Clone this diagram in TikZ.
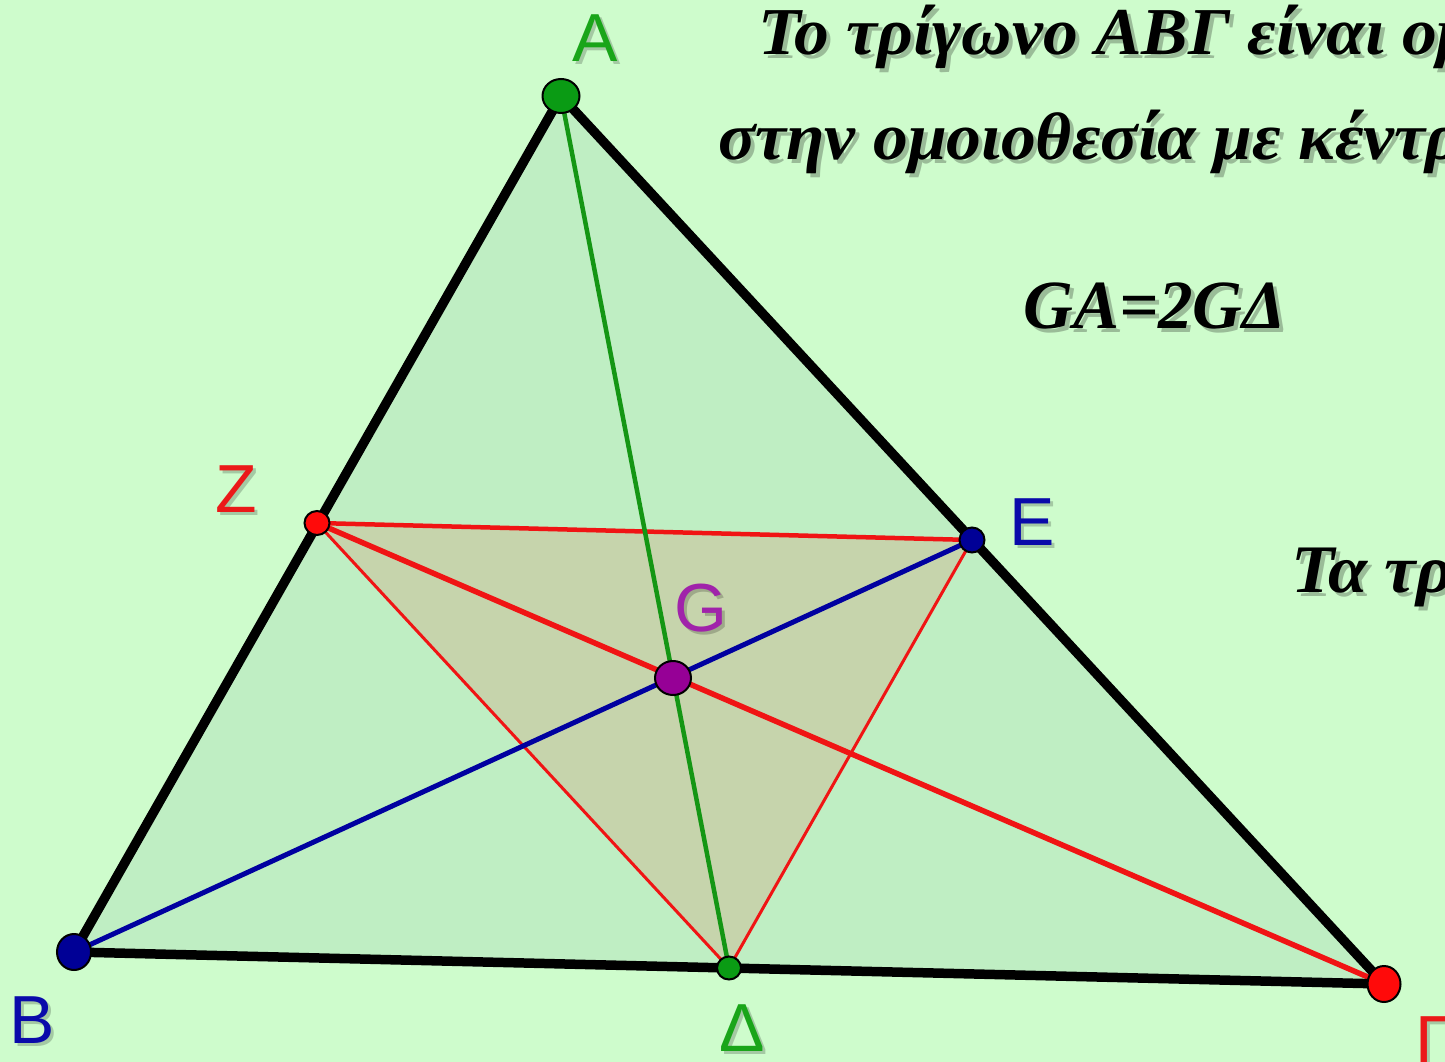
\documentclass[tikz,border=0pt]{standalone}
\usepackage{fontspec}
\usetikzlibrary{shapes.geometric}
\setmainfont{Liberation Serif}
\newfontfamily\lblfont{Liberation Sans}
\definecolor{bgc}{RGB}{206,252,204}
\definecolor{trifill}{RGB}{191,238,195}
\definecolor{innerfill}{RGB}{198,212,172}
\definecolor{lgreen}{RGB}{20,150,20}
\definecolor{lblue}{RGB}{0,0,160}
\definecolor{lred}{RGB}{240,20,20}
\definecolor{pgreen}{RGB}{10,155,20}
\definecolor{pblue}{RGB}{0,0,150}
\definecolor{pred}{RGB}{255,10,10}
\definecolor{ppurple}{RGB}{150,0,150}
\definecolor{tgreen}{RGB}{25,165,25}
\definecolor{tblue}{RGB}{10,10,170}
\definecolor{tred}{RGB}{235,25,25}
\definecolor{tpurple}{RGB}{160,35,170}
\newcommand{\widetxt}[1]{\scalebox{1.04}[1]{#1}}
\begin{document}
\begin{tikzpicture}[x=1pt,y=-1pt,
  side/.style={line width=9.5pt,black,line join=round,line cap=round},
  pt/.style={ellipse,draw=black,line width=2pt,inner sep=0pt},
  lbl/.style={font=\lblfont\fontsize{68}{68}\selectfont,inner sep=0pt},
  lblsh/.style={font=\lblfont\fontsize{68}{68}\selectfont,inner sep=0pt,text=black,opacity=0.2},
  txt/.style={font=\bfseries\itshape\fontsize{67}{67}\selectfont,inner sep=0pt,anchor=base west},
  txtsh/.style={font=\bfseries\itshape\fontsize{67}{67}\selectfont,inner sep=0pt,anchor=base west,text=black,opacity=0.25},
]
\useasboundingbox (0,0) rectangle (1445,1062);
\clip (0,0) rectangle (1445,1062);
\fill[bgc] (0,0) rectangle (1445,1062);

\coordinate (A) at (561,96);
\coordinate (B) at (74,952);
\coordinate (C) at (1384,984);
\coordinate (D) at (729,968);
\coordinate (E) at (972,540);
\coordinate (Z) at (317,523);
\coordinate (G) at (673,678);

% fills
\fill[trifill] (A) -- (B) -- (C) -- cycle;
\fill[innerfill] (Z) -- (E) -- (D) -- cycle;

% inner lines
\draw[lred,line width=4.5pt] (Z) -- (E);
\draw[lred,line width=3pt] (Z) -- (D);
\draw[lred,line width=3pt] (E) -- (D);
\draw[lblue,line width=5pt] (B) -- (E);
\draw[lred,line width=5.5pt] (Z) -- (C);
\draw[lgreen,line width=4.5pt] (A) -- (D);

% sides
\draw[side] (A) -- (B) -- (C) -- cycle;

% points
\node[pt,fill=pgreen,minimum width=37pt,minimum height=34pt] (pA) at (A) {};
\node[pt,fill=pblue,minimum width=34pt,minimum height=36pt] (pB) at (B) {};
\node[pt,fill=pred,minimum width=33pt,minimum height=36pt] (pC) at (C) {};
\node[pt,fill=pgreen,minimum width=24pt,minimum height=23pt] (pD) at (D) {};
\node[pt,fill=pblue,minimum width=25pt,minimum height=25pt] (pE) at (E) {};
\node[pt,fill=pred,minimum width=25pt,minimum height=24pt] (pZ) at (Z) {};
\node[pt,fill=ppurple,minimum width=36pt,minimum height=34pt] (pG) at (G) {};

% labels
\node[lblsh] (lAs) at (598,41) {A};
\node[lbl,text=tgreen] (lA) at (595,38) {A};
\node[lblsh] (lBs) at (35,1023) {B};
\node[lbl,text=tblue] (lB) at (32,1020) {B};
\node[lblsh] (lCs) at (1437,1043) {Γ};
\node[lbl,text=tred] (lC) at (1434,1040) {Γ};
\node[lblsh] (lDs) at (745,1031) {Δ};
\node[lbl,text=tgreen] (lD) at (742,1028) {Δ};
\node[lblsh] (lEs) at (1035,525) {E};
\node[lbl,text=tblue] (lE) at (1032,522) {E};
\node[lblsh] (lZs) at (239,492) {Z};
\node[lbl,text=tred] (lZ) at (236,489) {Z};
\node[lblsh] (lGs) at (704,611) {G};
\node[lbl,text=tpurple] (lG) at (701,608) {G};

% texts
\node[txtsh] (t1s) at (762,59) {\widetxt{Το τρίγωνο ΑΒΓ είναι ομοιόθετο}};
\node[txt] (t1) at (758,55) {\widetxt{Το τρίγωνο ΑΒΓ είναι ομοιόθετο}};
\node[txtsh] (t2s) at (722,164) {\widetxt{στην ομοιοθεσία με κέντρο}};
\node[txt] (t2) at (718,160) {\widetxt{στην ομοιοθεσία με κέντρο}};
\node[txtsh,font=\bfseries\itshape\fontsize{69}{69}\selectfont] (t3s) at (1027,332) {GA=2GΔ};
\node[txt,font=\bfseries\itshape\fontsize{69}{69}\selectfont] (t3) at (1023,328) {GA=2GΔ};
\node[txtsh,font=\bfseries\itshape\fontsize{68}{68}\selectfont] (t4s) at (1295,596) {\widetxt{Τα τρίγωνα}};
\node[txt,font=\bfseries\itshape\fontsize{68}{68}\selectfont] (t4) at (1291,592) {\widetxt{Τα τρίγωνα}};
\end{tikzpicture}
\end{document}
